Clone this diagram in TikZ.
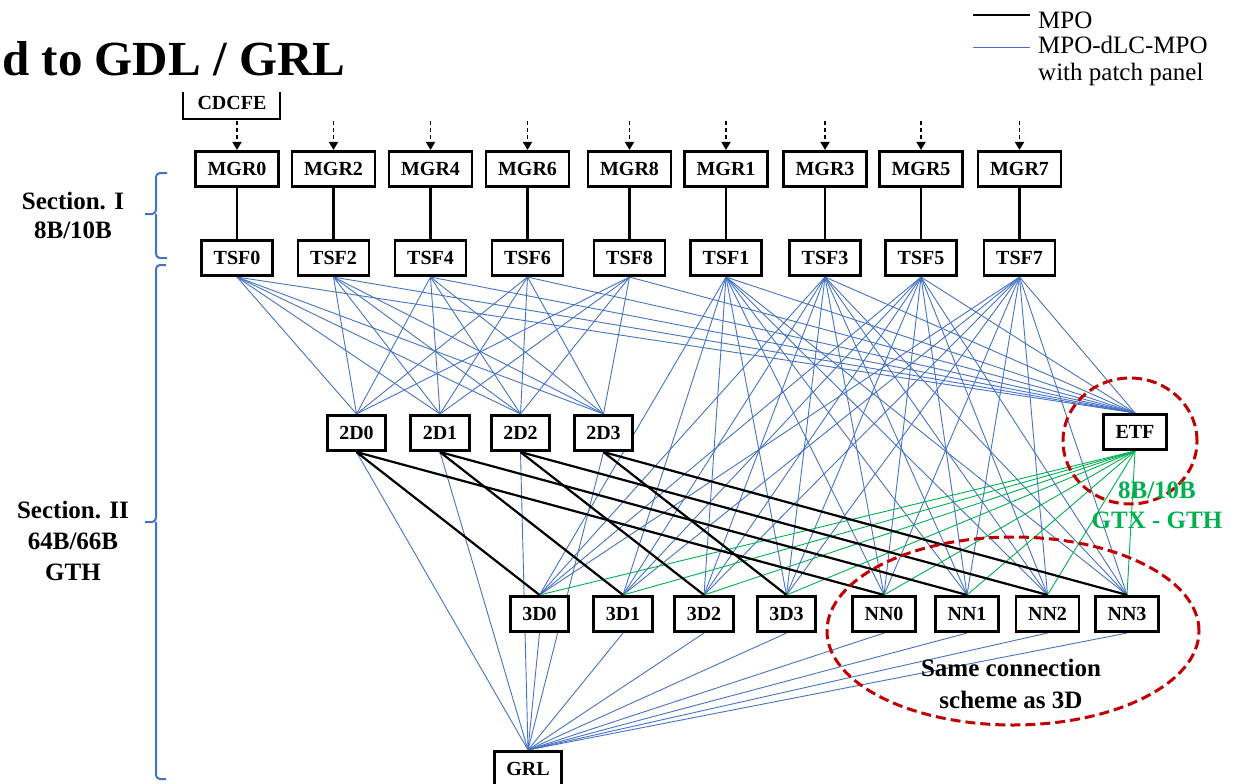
\documentclass[tikz,border=0pt]{standalone}
\usepackage{fontspec}
\setmainfont{Liberation Serif}
\usepackage{tikz}
\usetikzlibrary{arrows.meta, backgrounds}
\definecolor{lblue}{RGB}{68,114,196}
\definecolor{lgreen}{RGB}{0,176,80}
\definecolor{dred}{RGB}{192,0,0}
\tikzset{
    board/.style={draw, line width=2.6pt, fill=white, minimum height=35.5pt,
        inner xsep=12pt, inner ysep=0pt, font=\fontsize{20}{24}\selectfont\bfseries},
    mpo/.style={line width=2.2pt},
    patch/.style={lblue, line width=0.9pt},
    gtx/.style={lgreen, line width=0.9pt},
    feed/.style={line width=1.8pt, dash pattern=on 4pt off 3pt, -{Triangle[width=9pt,length=8pt]}},
    ring/.style={dred, line width=3pt, dash pattern=on 10pt off 5pt},
    sect/.style={align=center, inner sep=0pt},
    legendtext/.style={anchor=base west, inner sep=0pt, font=\fontsize{25}{29}\selectfont},
    secbrace/.style={lblue, line width=2pt, rounded corners=4pt}
}

\begin{document}
\begin{tikzpicture}[x=1pt, y=-1pt]
    \useasboundingbox (0,0) rectangle (1239,784);

    % Title
    \node[anchor=base west, inner sep=0pt, font=\fontsize{49}{55}\selectfont\bfseries] (title) at (2,75) {d to GDL / GRL};

    % CDCFE (top edge hidden)
    \node[inner sep=0pt, font=\fontsize{20}{24}\selectfont\bfseries] (cdcfe) at (232,103) {CDCFE};
    \draw[line width=2.6pt] (183,92) |- (280,119) -- (280,92);

    % MGR and TSF boards
    \foreach \n/\x in {0/237, 2/333.5, 4/430.5, 6/527.5, 8/629.5, 1/726, 3/825, 5/921, 7/1019.5} {
        \node[board] (mgr\n) at (\x,169) {MGR\n};
        \node[board] (tsf\n) at (\x,258) {TSF\n};
        \coordinate (in\n) at (\x,121);
        \draw[feed] (in\n) -- (mgr\n.north);
        \draw[mpo] (mgr\n) -- (tsf\n);
    }

    % 2D, ETF, 3D, NN and GRL boards
    \foreach \n/\x in {0/356.5, 1/440, 2/520.5, 3/603.5}
        \node[board] (twod\n) at (\x,433) {2D\n};
    \node[board] (etf) at (1135,432) {ETF};
    \foreach \n/\x in {0/539.5, 1/623, 2/704, 3/786.5}
        \node[board] (threed\n) at (\x,614) {3D\n};
    \foreach \n/\x in {0/884, 1/967, 2/1047.5, 3/1127}
        \node[board] (nn\n) at (\x,614) {NN\n};
    \node[board] (grl) at (528,769) {GRL};

    % Fibre links behind the boards
    \begin{scope}[on background layer]
        \foreach \t in {0,2,4,6,8} {
            \foreach \d in {0,...,3}
                \draw[patch] (tsf\t.south) -- (twod\d.north);
            \draw[patch] (tsf\t.south) -- (etf.north);
        }
        \foreach \t in {1,3,5,7} {
            \foreach \d in {0,...,3} {
                \draw[patch] (tsf\t.south) -- (threed\d.north);
                \draw[patch] (tsf\t.south) -- (nn\d.north);
            }
            \draw[patch] (tsf\t.south) -- (etf.north);
        }
        \foreach \d in {0,...,3} {
            \draw[patch] (twod\d.south) -- (grl.north);
            \draw[patch] (threed\d.south) -- (grl.north);
            \draw[patch] (nn\d.south) -- (grl.north);
            \draw[gtx] (etf.south) -- (threed\d.north);
            \draw[gtx] (etf.south) -- (nn\d.north);
        }
        \foreach \d in {0,...,3} {
            \draw[mpo] (twod\d.south) -- (threed\d.north);
            \draw[mpo] (twod\d.south) -- (nn\d.north);
        }
    \end{scope}

    % Highlights
    \draw[ring] (1130,441) ellipse [x radius=67pt, y radius=63pt];
    \draw[ring] (1013,631) ellipse [x radius=186pt, y radius=94pt];
    \node[lgreen, align=center, inner sep=0pt, font=\fontsize{25}{30}\selectfont\bfseries] (gtxnote) at (1157,505) {8B/10B\\GTX - GTH};
    \node[align=center, inner sep=0pt, font=\fontsize{25}{32}\selectfont\bfseries] (nnnote) at (1011,684) {Same connection\\scheme as 3D};

    % Sections
    \node[sect, font=\fontsize{25}{29}\selectfont\bfseries] (sec1) at (73,215) {Section. I\\8B/10B};
    \node[sect, font=\fontsize{25}{31}\selectfont\bfseries] (sec2) at (73,541) {Section. II\\64B/66B\\GTH};
    \draw[secbrace] (167,173) -| (156,214) -- (145,214) (156,214) |- (167,258);
    \draw[secbrace] (166,265) -| (156,522) -- (145,522) (156,522) |- (166,779);

    % Legend
    \coordinate (mpoa) at (973,15);
    \coordinate (mpob) at (1030,15);
    \coordinate (patcha) at (973,47);
    \coordinate (patchb) at (1030,47);
    \draw[mpo] (mpoa) -- (mpob);
    \draw[patch] (patcha) -- (patchb);
    \node[legendtext] (mpolabel) at (1038,29) {MPO};
    \node[legendtext] (patchlabel) at (1038,54) {MPO-dLC-MPO};
    \node[legendtext] (patchlabel2) at (1038,81) {with patch panel};
\end{tikzpicture}
\end{document}
